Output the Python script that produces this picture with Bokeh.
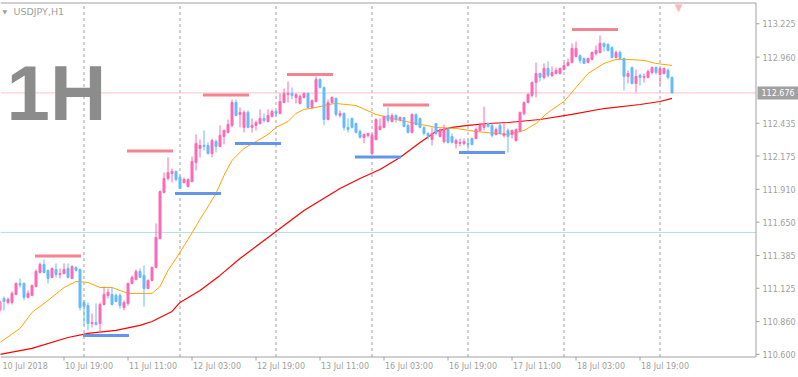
from bokeh.plotting import figure
from bokeh.models import Range1d, Label, ColumnDataSource
from bokeh.core.properties import value
from bokeh.embed import file_html
from bokeh.resources import INLINE
import pandas as pd

# ---------------- data ----------------
symbol_title = "USDJPY,H1"
big_label = "1H"
trading_days = ["2018-07-10", "2018-07-11", "2018-07-12", "2018-07-13",
                "2018-07-16", "2018-07-17", "2018-07-18", "2018-07-19"]
first_bar = "2018-07-10 03:00"
last_bar = "2018-07-19 03:00"

opens = [
    110.949, 111.044, 111.012, 111.012, 111.076, 111.163, 111.163, 111.052, 111.068, 111.139,
    111.250, 111.314, 111.266, 111.211, 111.274, 111.234, 111.242, 111.282, 111.203, 111.290,
    111.274, 111.012, 110.988, 110.845, 110.853, 110.845, 110.996, 111.068, 111.076, 111.068,
    111.068, 110.972, 111.004, 111.163, 111.195, 111.258, 111.227, 111.123, 111.187, 111.290,
    111.520, 111.886, 111.997, 112.036, 112.052, 112.005, 111.965, 111.933, 111.973, 112.124,
    112.235, 112.259, 112.259, 112.195, 112.290, 112.251, 112.330, 112.362, 112.418, 112.600,
    112.505, 112.402, 112.521, 112.402, 112.418, 112.433, 112.473, 112.449, 112.489, 112.529,
    112.513, 112.600, 112.664, 112.672, 112.640, 112.592, 112.640, 112.672, 112.560, 112.608,
    112.783, 112.719, 112.465, 112.600, 112.632, 112.497, 112.513, 112.402, 112.473, 112.433,
    112.370, 112.322, 112.338, 112.195, 112.306, 112.386, 112.402, 112.497, 112.449, 112.497,
    112.465, 112.481, 112.418, 112.362, 112.505, 112.473, 112.402, 112.354, 112.306, 112.433,
    112.330, 112.290, 112.386, 112.330, 112.275, 112.275, 112.275, 112.275, 112.314, 112.314,
    112.378, 112.402, 112.433, 112.418, 112.346, 112.418, 112.338, 112.378, 112.346, 112.298,
    112.378, 112.513, 112.600, 112.656, 112.759, 112.830, 112.799, 112.870, 112.815, 112.830,
    112.830, 112.862, 112.894, 112.918, 112.965, 112.973, 112.949, 112.918, 112.942, 112.989,
    112.997, 113.069, 113.061, 113.037, 112.957, 112.997, 112.949, 112.807, 112.878, 112.751,
    112.815, 112.799, 112.799, 112.838, 112.878, 112.822, 112.830, 112.854, 112.799]
highs = [
    111.036, 111.060, 111.052, 111.100, 111.171, 111.203, 111.171, 111.107, 111.155, 111.274,
    111.330, 111.353, 111.274, 111.290, 111.322, 111.282, 111.322, 111.322, 111.306, 111.298,
    111.282, 111.028, 111.012, 110.925, 111.004, 111.012, 111.139, 111.123, 111.131, 111.084,
    111.084, 111.028, 111.171, 111.227, 111.274, 111.282, 111.306, 111.195, 111.298, 111.639,
    111.901, 112.044, 112.163, 112.076, 112.060, 112.021, 112.005, 111.997, 112.171, 112.346,
    112.306, 112.378, 112.283, 112.314, 112.306, 112.418, 112.386, 112.465, 112.624, 112.624,
    112.560, 112.537, 112.537, 112.473, 112.457, 112.545, 112.513, 112.545, 112.545, 112.537,
    112.672, 112.711, 112.767, 112.719, 112.672, 112.664, 112.680, 112.680, 112.624, 112.807,
    112.791, 112.727, 112.624, 112.648, 112.640, 112.537, 112.521, 112.473, 112.481, 112.441,
    112.386, 112.354, 112.362, 112.354, 112.473, 112.473, 112.497, 112.560, 112.513, 112.505,
    112.489, 112.481, 112.433, 112.513, 112.513, 112.481, 112.410, 112.362, 112.402, 112.433,
    112.394, 112.425, 112.402, 112.354, 112.314, 112.314, 112.314, 112.306, 112.322, 112.402,
    112.441, 112.568, 112.441, 112.433, 112.402, 112.433, 112.433, 112.394, 112.386, 112.394,
    112.529, 112.608, 112.672, 112.767, 112.918, 112.838, 112.910, 112.926, 112.886, 112.878,
    112.878, 112.918, 112.949, 113.069, 113.084, 112.981, 112.957, 112.957, 113.005, 113.053,
    113.132, 113.076, 113.069, 113.045, 113.013, 113.013, 112.957, 112.854, 112.886, 112.862,
    112.830, 112.830, 112.862, 112.886, 112.886, 112.878, 112.878, 112.870, 112.807]
lows = [
    110.933, 110.949, 110.996, 110.996, 111.068, 111.131, 111.028, 111.044, 111.060, 111.131,
    111.242, 111.242, 111.163, 111.203, 111.211, 111.203, 111.234, 111.203, 111.195, 111.258,
    110.949, 110.830, 110.790, 110.814, 110.830, 110.766, 110.988, 111.044, 110.988, 111.012,
    110.964, 110.949, 110.988, 111.155, 111.187, 111.211, 110.980, 111.115, 111.179, 111.282,
    111.512, 111.878, 111.981, 111.965, 111.973, 111.917, 111.957, 111.925, 111.965, 112.060,
    112.163, 112.219, 112.187, 112.163, 112.203, 112.243, 112.267, 112.354, 112.402, 112.489,
    112.402, 112.362, 112.394, 112.362, 112.378, 112.425, 112.441, 112.441, 112.481, 112.489,
    112.505, 112.592, 112.600, 112.624, 112.592, 112.584, 112.632, 112.552, 112.552, 112.600,
    112.711, 112.418, 112.457, 112.592, 112.489, 112.481, 112.378, 112.362, 112.394, 112.354,
    112.314, 112.275, 112.322, 112.179, 112.298, 112.378, 112.394, 112.441, 112.441, 112.441,
    112.449, 112.402, 112.354, 112.354, 112.418, 112.394, 112.338, 112.306, 112.259, 112.338,
    112.322, 112.275, 112.275, 112.275, 112.235, 112.251, 112.259, 112.227, 112.259, 112.306,
    112.370, 112.378, 112.402, 112.322, 112.338, 112.346, 112.322, 112.203, 112.314, 112.290,
    112.362, 112.497, 112.592, 112.640, 112.640, 112.767, 112.783, 112.799, 112.799, 112.822,
    112.822, 112.854, 112.886, 112.910, 112.957, 112.910, 112.910, 112.910, 112.934, 112.973,
    112.989, 113.005, 113.005, 112.949, 112.949, 112.942, 112.695, 112.751, 112.743, 112.680,
    112.735, 112.759, 112.791, 112.822, 112.822, 112.735, 112.822, 112.783, 112.672]
closes = [
    111.020, 111.020, 111.036, 111.084, 111.163, 111.151, 111.052, 111.084, 111.147, 111.258,
    111.314, 111.250, 111.203, 111.282, 111.234, 111.242, 111.274, 111.211, 111.298, 111.266,
    110.972, 110.980, 110.845, 110.853, 110.837, 110.996, 111.076, 111.092, 110.996, 111.020,
    110.988, 111.012, 111.163, 111.211, 111.258, 111.211, 111.123, 111.187, 111.290, 111.528,
    111.893, 111.997, 112.044, 112.052, 111.989, 111.917, 111.989, 111.989, 112.132, 112.275,
    112.259, 112.251, 112.195, 112.298, 112.251, 112.338, 112.378, 112.425, 112.600, 112.497,
    112.521, 112.521, 112.402, 112.418, 112.441, 112.473, 112.457, 112.497, 112.529, 112.513,
    112.608, 112.672, 112.672, 112.656, 112.664, 112.648, 112.672, 112.560, 112.616, 112.783,
    112.719, 112.465, 112.600, 112.640, 112.505, 112.513, 112.402, 112.386, 112.402, 112.362,
    112.322, 112.346, 112.354, 112.338, 112.465, 112.410, 112.489, 112.457, 112.497, 112.465,
    112.481, 112.410, 112.362, 112.505, 112.425, 112.402, 112.354, 112.330, 112.354, 112.354,
    112.386, 112.386, 112.283, 112.283, 112.298, 112.283, 112.290, 112.267, 112.267, 112.386,
    112.418, 112.425, 112.410, 112.338, 112.386, 112.354, 112.354, 112.330, 112.378, 112.386,
    112.521, 112.600, 112.664, 112.759, 112.830, 112.799, 112.870, 112.815, 112.838, 112.854,
    112.870, 112.894, 112.918, 113.029, 113.029, 112.934, 112.910, 112.949, 112.997, 113.013,
    113.069, 113.045, 113.013, 112.957, 112.997, 112.949, 112.807, 112.830, 112.751, 112.807,
    112.799, 112.807, 112.846, 112.878, 112.838, 112.870, 112.870, 112.799, 112.676]

# moving averages (bar index, value)
ma_fast_bar = [0, 5, 8, 12, 16, 19, 22, 25, 28, 32, 35, 38, 40, 42, 44, 47, 50, 52, 54, 56,
               58, 61, 64, 67, 69, 72, 74, 76, 79, 82, 84, 89, 94, 99, 104, 109, 114, 119,
               124, 127, 131, 134, 137, 141, 144, 147, 151, 154, 157, 161, 164, 168]
ma_fast_val = [110.694, 110.806, 110.933, 111.028, 111.131, 111.179, 111.171, 111.131, 111.131,
               111.084, 111.084, 111.084, 111.139, 111.266, 111.361, 111.512, 111.671, 111.774,
               111.878, 112.021, 112.140, 112.235, 112.290, 112.346, 112.402, 112.449, 112.513,
               112.545, 112.560, 112.584, 112.592, 112.576, 112.505, 112.465, 112.433, 112.402,
               112.394, 112.370, 112.354, 112.346, 112.378, 112.433, 112.521, 112.608, 112.719,
               112.830, 112.910, 112.942, 112.942, 112.934, 112.910, 112.894]
ma_slow_bar = [0, 8, 17, 22, 29, 35, 38, 43, 45, 50, 55, 60, 66, 71, 76, 85, 90, 95, 100, 105,
               109, 113, 117, 122, 127, 135, 143, 151, 160, 165, 168]
ma_slow_val = [110.599, 110.647, 110.734, 110.766, 110.790, 110.830, 110.861, 110.941, 111.012,
               111.107, 111.227, 111.361, 111.504, 111.624, 111.743, 111.917, 111.997, 112.068,
               112.163, 112.283, 112.370, 112.402, 112.418, 112.433, 112.441, 112.465, 112.505,
               112.552, 112.584, 112.608, 112.632]

# daily high / low marker segments (from bar, to bar, price)
hi_from = [8.75, 31.75, 50.75, 71.75, 95.75, 143.0]
hi_to = [20.25, 43.25, 62.25, 83.25, 107.25, 154.5]
hi_price = [111.381, 112.215, 112.660, 112.822, 112.580, 113.180]
lo_from = [20.75, 43.75, 58.75, 88.75, 114.75]
lo_to = [32.25, 55.25, 70.25, 100.25, 126.25]
lo_price = [110.750, 111.878, 112.275, 112.167, 112.203]

level_line = 111.568
price_ticks = [110.600, 110.860, 111.125, 111.385, 111.650, 111.910, 112.175, 112.435, 112.960, 113.225]
first_time_label = "10 Jul 2018"
tick_times = ["2018-07-10 19:00", "2018-07-11 11:00", "2018-07-12 03:00", "2018-07-12 19:00",
              "2018-07-13 11:00", "2018-07-16 03:00", "2018-07-16 19:00", "2018-07-17 11:00",
              "2018-07-18 03:00", "2018-07-18 19:00"]
tick_labels = ["10 Jul 19:00", "11 Jul 11:00", "12 Jul 03:00", "12 Jul 19:00", "13 Jul 11:00",
               "16 Jul 03:00", "16 Jul 19:00", "17 Jul 11:00", "18 Jul 03:00", "18 Jul 19:00"]

# ---------------- styles / layout ----------------
BULL = "#ff69b4"
BEAR = "#66bbff"
GRAY = "#a0a0a0"
FONT = "DejaVu Sans"
W, H = 798, 377
PX_PER_BAR = 4.0
X0 = 0.125                          # data x at the left edge of the canvas
PPX = (113.386 - 110.583) / 353.0   # price per pixel
Y_TOP = 113.386 + 3 * PPX           # price at canvas top


def px2x(px):
    return X0 + px / PX_PER_BAR


def py2y(py):
    return Y_TOP - py * PPX


AXIS_X = px2x(755.5)     # right price-scale line
TOP_Y = py2y(2.5)        # top frame line
BOT_Y = py2y(356.5)      # time-scale line

# bar times
t0, t1 = pd.Timestamp(first_bar), pd.Timestamp(last_bar)
times = []
for d in trading_days:
    for h in range(24):
        t = pd.Timestamp(d) + pd.Timedelta(hours=h)
        if t0 <= t <= t1:
            times.append(t)
idx = list(range(len(times)))

colors = [BULL if c >= o else BEAR for o, c in zip(opens, closes)]
src = ColumnDataSource(dict(
    x=idx, o=opens, h=highs, l=lows, c=closes,
    top=[max(o, c) for o, c in zip(opens, closes)],
    bottom=[min(o, c) for o, c in zip(opens, closes)],
    color=colors))

p = figure(width=W, height=H, output_backend="svg", toolbar_location=None,
           x_range=Range1d(X0, px2x(W)), y_range=Range1d(py2y(H), Y_TOP),
           x_axis_location=None, y_axis_location=None,
           min_border_left=0, min_border_right=0, min_border_top=0, min_border_bottom=0)
p.grid.visible = False
p.outline_line_color = None
p.background_fill_color = "white"
p.border_fill_color = "white"

# period separators
day_starts = [i for i, t in enumerate(times) if t.hour == 0]
p.segment(x0=day_starts, x1=day_starts, y0=[BOT_Y] * len(day_starts), y1=[TOP_Y] * len(day_starts),
          line_color=GRAY, line_dash="3 3", line_width=1)
# horizontal levels
p.segment(x0=[X0, X0], x1=[AXIS_X, AXIS_X], y0=[level_line, closes[-1]], y1=[level_line, closes[-1]],
          line_color=["#b0e0e6", "#ffc0cb"], line_width=1)

# frame lines
p.segment(x0=[X0, X0, AXIS_X], x1=[AXIS_X, AXIS_X, AXIS_X],
          y0=[TOP_Y, BOT_Y, BOT_Y], y1=[TOP_Y, BOT_Y, TOP_Y],
          line_color=GRAY, line_width=1)

# moving averages
p.line(ma_slow_bar, ma_slow_val, line_color="#ff0000", line_width=1.2)
p.line(ma_fast_bar, ma_fast_val, line_color="#ffa500", line_width=1)

# high/low segments
p.segment(x0=hi_from, x1=hi_to, y0=hi_price, y1=hi_price, line_color="#f4848f", line_width=3)
p.segment(x0=lo_from, x1=lo_to, y0=lo_price, y1=lo_price, line_color="#6495ed", line_width=3)

# candles
p.segment(x0="x", x1="x", y0="l", y1="h", line_color="color", line_width=1, source=src)
p.vbar(x="x", width=0.5, top="top", bottom="bottom", fill_color="color",
       line_color="color", line_width=1, source=src)

# price scale (right)
n = len(price_ticks)
p.segment(x0=[AXIS_X] * n, x1=[AXIS_X + 0.875] * n, y0=price_ticks, y1=price_ticks,
          line_color=GRAY, line_width=1)
p.text(x=[px2x(762)] * n, y=price_ticks, text=["%.3f" % v for v in price_ticks],
       text_font=value(FONT), text_font_size="8px", text_color=GRAY,
       text_baseline="middle", text_align="left")
cur = closes[-1]
p.quad(left=[px2x(757)], right=[px2x(798)], bottom=[cur - 6.5 * PPX], top=[cur + 6.5 * PPX],
       fill_color=GRAY, line_color=None)
p.text(x=[px2x(761)], y=[cur], text=["%.3f" % cur], text_font=value(FONT),
       text_font_size="8px", text_color="white", text_baseline="middle", text_align="left")

# time scale (bottom)
tick_pos = [times.index(pd.Timestamp(t)) for t in tick_times]
m = len(tick_pos)
p.segment(x0=tick_pos, x1=tick_pos, y0=[BOT_Y] * m, y1=[py2y(360)] * m,
          line_color=GRAY, line_width=1)
p.text(x=[px2x(2)] + [tp + 0.25 for tp in tick_pos], y=[py2y(366)] * (m + 1),
       text=[first_time_label] + tick_labels, text_font=value(FONT), text_font_size="8px",
       text_color=GRAY, text_baseline="middle", text_align="left")

# texts
p.add_layout(Label(x=6, y=H - 92, x_units="screen", y_units="screen", text=big_label,
                   text_font="Liberation Sans", text_font_style="bold",
                   text_font_size="78px", text_color="#8c8c8c", text_baseline="alphabetic"))
p.add_layout(Label(x=13, y=H - 10.5, x_units="screen", y_units="screen", text=symbol_title,
                   text_font=FONT, text_font_size="9.5px", text_color=GRAY,
                   text_baseline="middle"))
p.add_layout(Label(x=2, y=H - 10.5, x_units="screen", y_units="screen", text="\u25bc",
                   text_font=FONT, text_font_size="6px", text_color=GRAY,
                   text_baseline="middle"))
p.add_layout(Label(x=678, y=H - 1, x_units="screen", y_units="screen", text="\u25bc",
                   text_font=FONT, text_font_size="10px", text_color="#ffb6c1",
                   text_baseline="top", text_align="center"))

open("out.html", "w").write(file_html(p, INLINE))
